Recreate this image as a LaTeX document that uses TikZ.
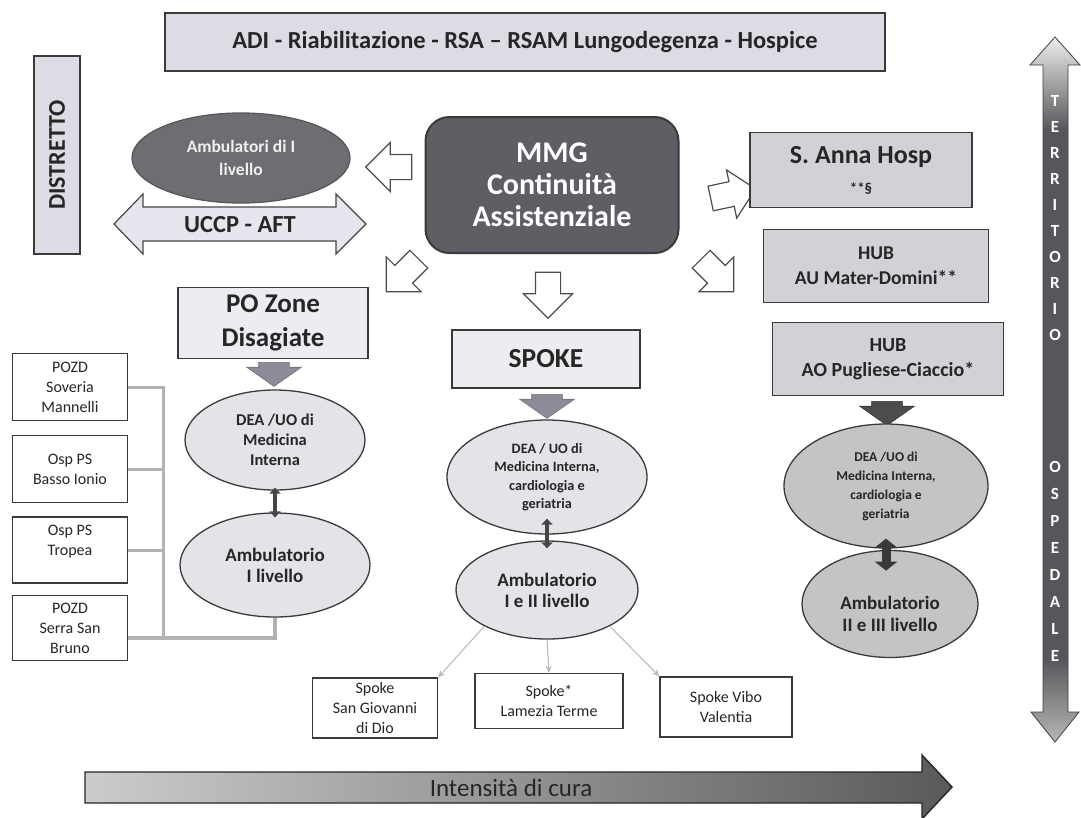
\documentclass[tikz,border=0pt]{standalone}
\usepackage{fontspec}
\setmainfont{Carlito}
\usetikzlibrary{shapes.geometric,shapes.arrows,arrows.meta,calc}
\definecolor{textdark}{HTML}{262626}
\definecolor{edge}{HTML}{3A3A3A}
\definecolor{topfill}{HTML}{DCDCE4}
\definecolor{lightbox}{HTML}{ECECF1}
\definecolor{hubfill}{HTML}{D2D2D6}
\definecolor{ellight}{HTML}{E4E4E8}
\definecolor{elhub}{HTML}{C4C4C6}
\definecolor{darkfill}{HTML}{5E5E64}
\definecolor{midfill}{HTML}{6E6E72}
\definecolor{conngray}{HTML}{8C8C98}
\definecolor{uccpfill}{HTML}{E6E6EE}
\definecolor{vbar}{HTML}{55575A}
\begin{document}
\begin{tikzpicture}[x=1pt,y=-1pt,
  boxstyle/.style={draw=edge, line width=1.6pt, align=center, inner sep=0pt, text=textdark},
  ellstyle/.style={ellipse, draw=edge, line width=1.3pt, align=center, inner sep=0pt, text=textdark},
  smallbox/.style={draw=edge, line width=1.3pt, fill=white, align=center, inner sep=0pt, text=textdark, font=\fontsize{16}{20}\selectfont},
  hollow/.style={single arrow, draw=gray!60!black, fill=white, line width=1.2pt, inner xsep=0pt, inner ysep=12pt, single arrow head extend=12pt, minimum height=46pt},
  blockdown/.style={single arrow, fill=conngray, draw=conngray!80!black, line width=0.6pt, inner xsep=0pt, inner ysep=15pt, single arrow head extend=12pt, single arrow tip angle=110, minimum height=24pt, rotate=-90},
  treeline/.style={draw=gray!60, line width=3pt},
  thinarrow/.style={draw=gray!55, line width=1pt, -{Stealth[length=7pt,width=6pt]}},
  dblarrow/.style={draw=gray!55!black, line width=4pt, {Triangle[length=6pt,width=11pt]}-{Triangle[length=6pt,width=11pt]}}
]
\useasboundingbox (0,0) rectangle (1081,817);
\fill[white] (0,0) rectangle (1081,817);

% top box
\node[boxstyle, fill=topfill, minimum width=720pt, minimum height=58pt, font=\fontsize{24.5}{28}\selectfont\bfseries] (top) at (525,42) {ADI - Riabilitazione - RSA – RSAM Lungodegenza - Hospice};

% distretto
\node[boxstyle, fill=topfill, rotate=90, minimum width=198pt, minimum height=46pt, font=\fontsize{24}{28}\selectfont\bfseries] (distr) at (57,155) {DISTRETTO};

% ambulatori di I livello
\node[ellstyle, fill=midfill, draw=midfill!80!black, minimum width=218pt, minimum height=90pt, text=gray!12, font=\fontsize{17.5}{23}\selectfont\bfseries] (ambI) at (241,158) {Ambulatori di I\\livello};

% UCCP - AFT double arrow
\draw[fill=uccpfill, draw=gray!55!black, line width=1.2pt] (114,224) -- (143,194) -- (143,207) -- (336,207) -- (336,194) -- (366,224) -- (336,254) -- (336,241) -- (143,241) -- (143,254) -- cycle;
\node[text=textdark, font=\fontsize{24.5}{28}\selectfont\bfseries] (uccp) at (240,225) {UCCP - AFT};

% MMG
\node[boxstyle, fill=darkfill, draw=edge, line width=2pt, rounded corners=24pt, minimum width=253pt, minimum height=136pt, text=white, font=\fontsize{30}{32}\selectfont\bfseries] (mmg) at (552,185) {MMG\\Continuità\\Assistenziale};

% hollow arrows around MMG
\node[hollow, rotate=180] (hleft) at (395,167) {};
\node[hollow, rotate=12] (hright) at (727,195) {};
\node[hollow, rotate=-135] (hdl) at (407,271) {};
\node[hollow, rotate=-90] (hdown) at (548,289) {};
\node[hollow, rotate=-45] (hdr) at (713,271) {};

% right side boxes
\node[boxstyle, fill=hubfill, minimum width=222pt, minimum height=75pt, font=\fontsize{26}{30}\selectfont\bfseries] (sanna) at (861,170) {S. Anna Hosp\\{\fontsize{15}{15}\selectfont **§}};
\node[boxstyle, fill=hubfill, minimum width=225pt, minimum height=73pt, font=\fontsize{19.5}{25}\selectfont\bfseries] (mater) at (876,266) {HUB\\AU Mater-Domini**};
\node[boxstyle, fill=hubfill, minimum width=231pt, minimum height=73pt, font=\fontsize{20}{25}\selectfont\bfseries] (pugl) at (888,359) {HUB\\AO Pugliese-Ciaccio*};

% left column
\node[boxstyle, fill=lightbox, minimum width=190pt, minimum height=71pt, font=\fontsize{27}{34}\selectfont\bfseries] (pozd) at (273,323) {PO Zone\\Disagiate};
\node[blockdown] (bd1) at (274,369) {};
\node[ellstyle, fill=ellight, minimum width=180pt, minimum height=100pt, font=\fontsize{16.5}{20}\selectfont\bfseries] (dea1) at (275,440) {DEA /UO di\\Medicina\\Interna};
\node[ellstyle, fill=ellight, minimum width=190pt, minimum height=104pt, font=\fontsize{19}{21}\selectfont\bfseries] (amb1) at (275,565) {Ambulatorio\\I livello};
\draw[dblarrow, shorten <=-3pt, shorten >=-5pt] (dea1.south) -- (amb1.north);

\node[smallbox, minimum width=115pt, minimum height=67pt] (sov) at (70,387) {POZD\\Soveria\\Mannelli};
\node[smallbox, minimum width=115pt, minimum height=67pt] (basso) at (70,469) {Osp PS\\Basso Ionio};
\node[smallbox, minimum width=115pt, minimum height=66pt] (trop) at (70,550) {Osp PS\\Tropea\\~};
\node[smallbox, minimum width=115pt, minimum height=65pt] (serra) at (70,628) {POZD\\Serra San\\Bruno};

\coordinate (trunkTop) at (163,386);
\coordinate (trunkBot) at (163,638);
\draw[treeline] (trunkTop) -- (trunkBot);
\draw[treeline] (sov.east) -- (sov.east -| trunkTop);
\draw[treeline] (basso.east) -- (basso.east -| trunkTop);
\draw[treeline] (trop.east) -- (trop.east -| trunkTop);
\draw[treeline, line width=4pt] (serra.east |- trunkBot) -- (amb1.south |- trunkBot) -- (amb1.south);

% middle column
\node[boxstyle, fill=lightbox, minimum width=188pt, minimum height=58pt, font=\fontsize{27.5}{30}\selectfont\bfseries] (spoke) at (546,359) {SPOKE};
\node[blockdown] (bd2) at (547,401) {};
\node[ellstyle, fill=ellight, minimum width=200pt, minimum height=114pt, font=\fontsize{14.3}{18.5}\selectfont\bfseries] (dea2) at (547,477) {DEA / UO di\\Medicina Interna,\\cardiologia e\\geriatria};
\node[ellstyle, fill=ellight, minimum width=182pt, minimum height=98pt, font=\fontsize{19}{21}\selectfont\bfseries] (amb2) at (547,590) {Ambulatorio\\I e II livello};
\draw[dblarrow, line width=3.5pt, shorten <=-16pt, shorten >=-8pt] (dea2.south) -- (amb2.north);

\node[smallbox, minimum width=125pt, minimum height=60pt] (sg) at (375,708) {Spoke\\San Giovanni\\di Dio};
\node[smallbox, minimum width=148pt, minimum height=55pt] (lt) at (549,701) {Spoke*\\Lamezia Terme};
\node[smallbox, minimum width=132pt, minimum height=60pt] (vv) at (726,707) {Spoke Vibo\\Valentia};
\draw[thinarrow] (amb2.-150) -- (sg.north east);
\draw[thinarrow] (amb2.south) -- (lt.north);
\draw[thinarrow] (amb2.-30) -- (vv.north west);

% hub column
\node[blockdown, fill=gray!60!black, draw=gray!40!black] (bd3) at (887,408) {};
\node[ellstyle, fill=elhub, minimum width=204pt, minimum height=124pt, font=\fontsize{13.5}{19}\selectfont\bfseries] (dea3) at (886,486) {DEA /UO di\\Medicina Interna,\\cardiologia e\\geriatria};
\node[ellstyle, fill=elhub, minimum width=176pt, minimum height=107pt] (amb3) at (890,604) {};
\node[text=textdark, align=center, font=\fontsize{19}{22}\selectfont\bfseries] (amb3t) at (890,614) {Ambulatorio\\II e III livello};
\draw[draw=gray!45!black, line width=9pt, {Triangle[length=9pt,width=22pt]}-{Triangle[length=9pt,width=22pt]}] ($(dea3.south)+(0,-10)$) -- ($(dea3.south)+(0,22)$);

% right vertical arrow
\begin{scope}
  \clip (1055,37) -- (1080,65) -- (1068,65) -- (1068,712) -- (1079,712) -- (1055,742) -- (1031,712) -- (1043,712) -- (1043,65) -- (1030,65) -- cycle;
  \shade[top color=gray!12, bottom color=vbar] (1028,36) rectangle (1082,130);
  \fill[vbar] (1028,129) rectangle (1082,660);
  \shade[top color=vbar, bottom color=gray!55] (1028,659) rectangle (1082,744);
\end{scope}
\draw[draw=gray!50!black, line width=0.8pt]
  (1055,37) -- (1080,65) -- (1068,65) -- (1068,712) -- (1079,712) -- (1055,742) -- (1031,712) -- (1043,712) -- (1043,65) -- (1030,65) -- cycle;
\node[text=white, align=center, inner sep=0pt, font=\fontsize{17}{26}\selectfont\bfseries] (terr) at (1055,218) {T\\E\\R\\R\\I\\T\\O\\R\\I\\O};
\node[text=white, align=center, inner sep=0pt, font=\fontsize{17}{27}\selectfont\bfseries] (osp) at (1055,561) {O\\S\\P\\E\\D\\A\\L\\E};

% bottom arrow
\shade[left color=gray!40, right color=gray!70!black, draw=gray!30!black, line width=1.4pt]
  (85,772) -- (922,772) -- (922,755) -- (952,787) -- (922,819) -- (922,803) -- (85,803) -- cycle;
\node[text=textdark, font=\fontsize{25}{28}\selectfont] (int) at (511,788) {Intensità di cura};
\end{tikzpicture}
\end{document}
